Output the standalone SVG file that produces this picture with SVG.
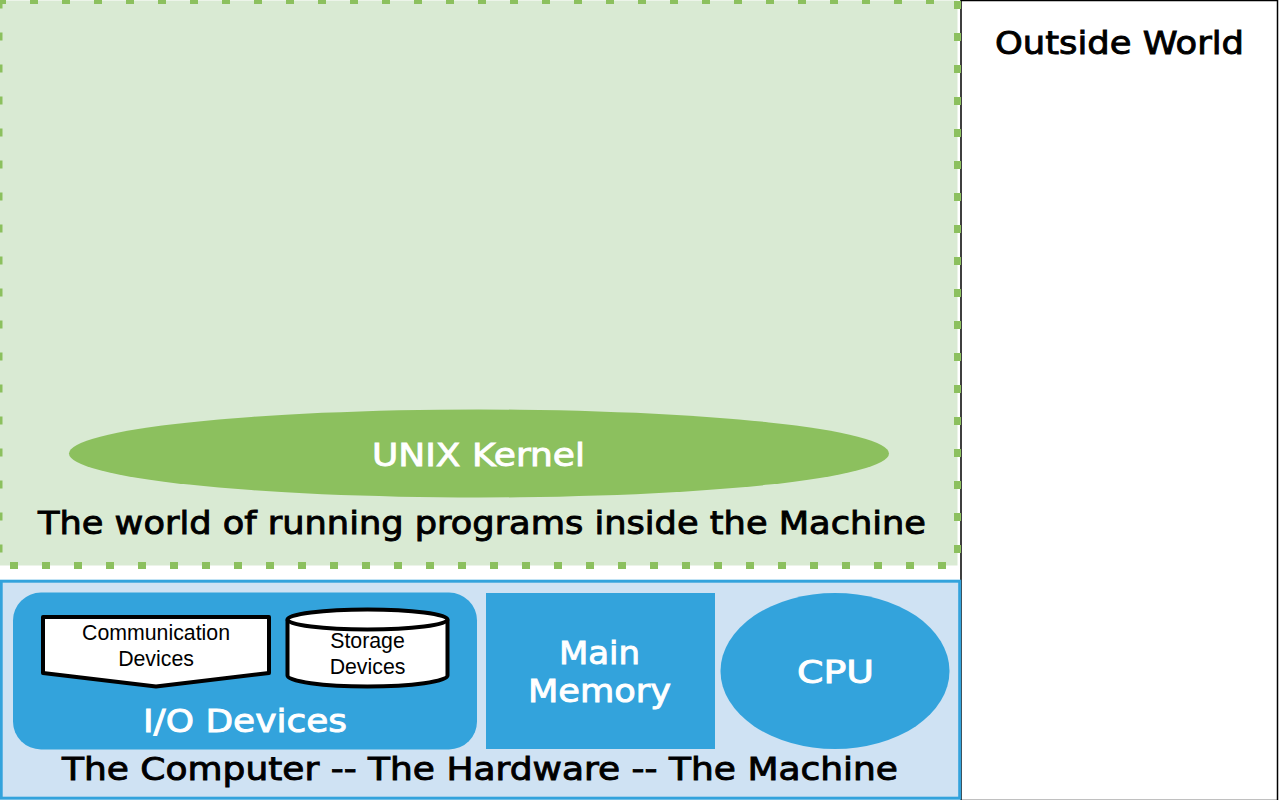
<svg xmlns="http://www.w3.org/2000/svg" width="1280" height="800" viewBox="0 0 1280 800">
<style>
.o{font-family:"DejaVu Sans",Inter,sans-serif;font-size:32px;font-weight:500;text-anchor:start;stroke-width:.9px}
.k{fill:#000;stroke:#000}
.w{fill:#fff;stroke:#fff}
.a{font-family:"Liberation Sans",Arial,sans-serif;font-size:21.300px;fill:#000;text-anchor:middle}
.b{fill:#33a3dc}
.d{fill:#fff;stroke:#000;stroke-width:4;stroke-linejoin:round}
</style>
<rect width="1280" height="800" fill="#fff"/>
<g id="outside-world">
<rect x="961" y="0.5" width="316.5" height="800" fill="#fff" stroke="#000" stroke-width="1.5"/>
<text class="o k" x="995" y="54" textLength="249" lengthAdjust="spacingAndGlyphs">Outside World</text>
</g>
<g id="programs-world">
<rect x="-1" y="0.5" width="958.500" height="565" fill="#d9ead3" stroke="#8cc05e" stroke-width="7" stroke-dasharray="8 24" stroke-dashoffset="1"/>
<text class="o k" x="38" y="534" textLength="888" lengthAdjust="spacingAndGlyphs">The world of running programs inside the Machine</text>
</g>
<g id="unix-kernel">
<ellipse cx="479" cy="453.500" rx="410" ry="44" fill="#8cc05e"/>
<text class="o w" x="372" y="466" textLength="213" lengthAdjust="spacingAndGlyphs">UNIX Kernel</text>
</g>
<g id="computer">
<rect x="1.200" y="581.200" width="958.500" height="217" fill="#cfe2f3" stroke="#33a3dc" stroke-width="3"/>
<text class="o k" x="62" y="780" textLength="836" lengthAdjust="spacingAndGlyphs">The Computer -- The Hardware -- The Machine</text>
</g>
<g id="io-devices">
<rect class="b" x="13" y="592.500" width="464" height="157" rx="28"/>
<text class="o w" x="143" y="732" textLength="204" lengthAdjust="spacingAndGlyphs">I/O Devices</text>
</g>
<g id="communication-devices">
<path class="d" d="M43 617H269V673L156 686.500L43 673Z"/>
<text class="a" x="156" y="640">Communication</text>
<text class="a" x="156" y="665.500">Devices</text>
</g>
<g id="storage-devices">
<path class="d" d="M287.500 619.500V675.500C287.500 681.500 323 686.500 367.500 686.500S447.500 681.500 447.500 675.500V619.500"/>
<ellipse class="d" cx="367.500" cy="619.500" rx="80" ry="10"/>
<text class="a" x="367.500" y="647.500">Storage</text>
<text class="a" x="367.500" y="673.500">Devices</text>
</g>
<g id="main-memory">
<rect class="b" x="486" y="593" width="229" height="156"/>
<text class="o w" x="559" y="664" textLength="81" lengthAdjust="spacingAndGlyphs">Main</text>
<text class="o w" x="528" y="702" textLength="143" lengthAdjust="spacingAndGlyphs">Memory</text>
</g>
<g id="cpu">
<ellipse class="b" cx="835" cy="671" rx="114.500" ry="78"/>
<text class="o w" x="797" y="683" textLength="77" lengthAdjust="spacingAndGlyphs">CPU</text>
</g>
<g id="connectors"/>
</svg>
